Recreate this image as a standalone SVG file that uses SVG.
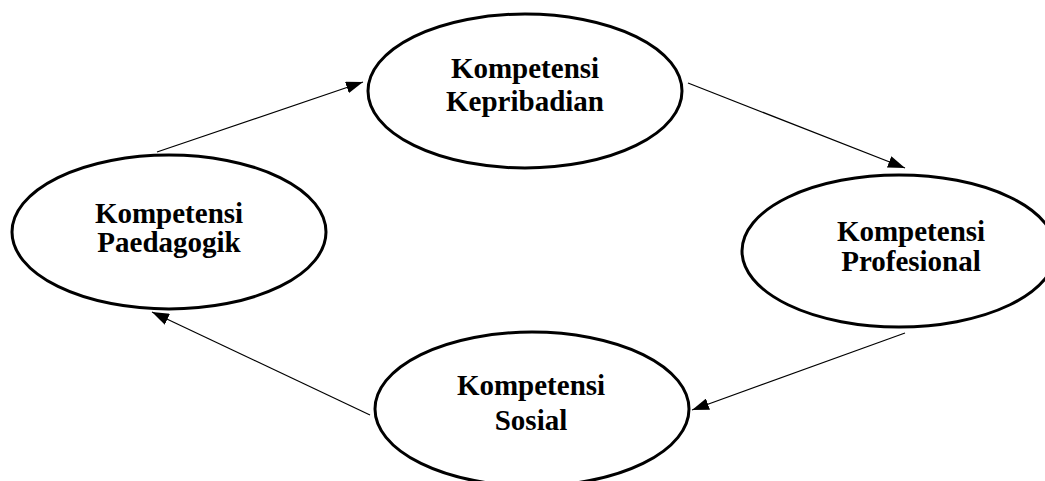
<svg xmlns="http://www.w3.org/2000/svg" width="1045" height="481" viewBox="0 0 1045 481">
  <style>
    .node ellipse { fill: #ffffff; stroke: #000000; stroke-width: 3; }
    .node text { font-family: "Liberation Serif", "Times New Roman", serif; font-weight: bold; font-size: 29px; fill: #000000; text-anchor: middle; }
    .edge { stroke: #000000; stroke-width: 1.2; fill: none; marker-end: url(#arrow); }
  </style>
  <defs>
    <marker id="arrow" viewBox="0 0 17 12" refX="17" refY="6" markerWidth="17" markerHeight="12" markerUnits="userSpaceOnUse" orient="auto">
      <path d="M0,0 L17,6 L0,12 Z" fill="#000000"/>
    </marker>
  </defs>
  <rect width="1045" height="481" fill="#ffffff"/>

  <g id="node-kepribadian" class="node">
    <ellipse cx="525" cy="91" rx="157" ry="77"/>
    <text x="525" y="78">Kompetensi</text>
    <text x="525" y="111">Kepribadian</text>
  </g>

  <g id="node-paedagogik" class="node">
    <ellipse cx="169" cy="232" rx="157" ry="77"/>
    <text x="169" y="223">Kompetensi</text>
    <text x="169" y="252">Paedagogik</text>
  </g>

  <g id="node-profesional" class="node">
    <ellipse cx="899" cy="251" rx="157" ry="76"/>
    <text x="911" y="241">Kompetensi</text>
    <text x="911" y="271">Profesional</text>
  </g>

  <g id="node-sosial" class="node">
    <ellipse cx="532" cy="409" rx="157" ry="77"/>
    <text x="531" y="395">Kompetensi</text>
    <text x="531" y="430">Sosial</text>
  </g>

  <g id="connectors">
    <line class="edge" x1="157" y1="152" x2="363" y2="82"/>
    <line class="edge" x1="688" y1="83" x2="905" y2="168"/>
    <line class="edge" x1="905" y1="333" x2="692" y2="410"/>
    <line class="edge" x1="370" y1="415" x2="152" y2="312"/>
  </g>
</svg>
